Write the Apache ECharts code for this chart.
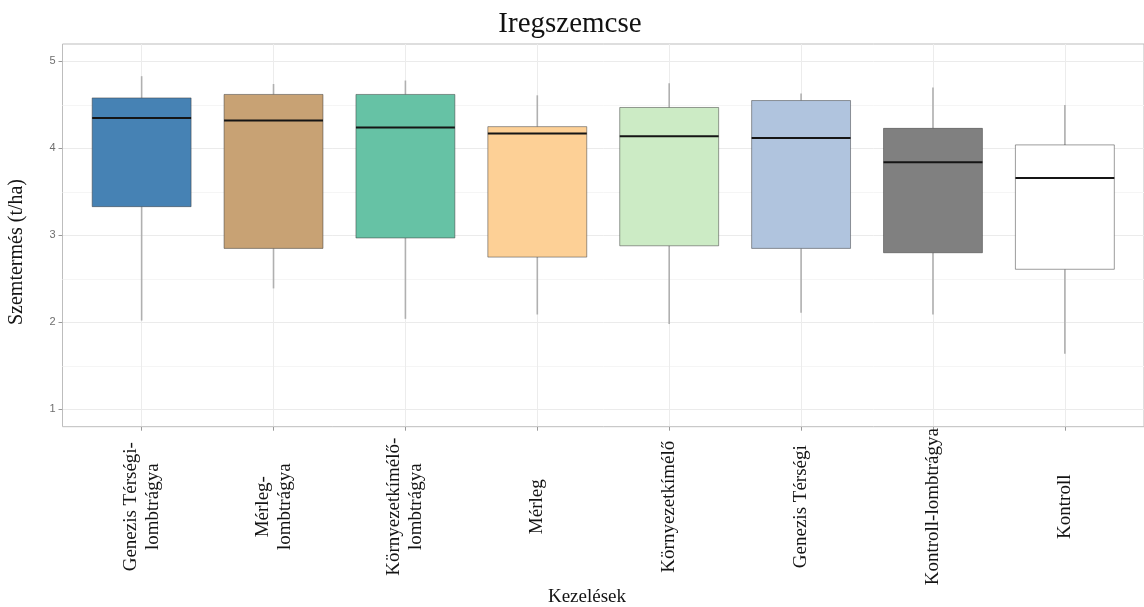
<!DOCTYPE html>
<html>
<head>
<meta charset="utf-8">
<style>
  html, body { margin: 0; padding: 0; background: #ffffff; }
  #chart { width: 1144px; height: 607px; }
</style>
<script src="https://cdn.jsdelivr.net/npm/echarts@6/dist/echarts.min.js"></script>
</head>
<body>
<div id="chart"></div>
<script>
// Treatments (x axis), in plotting order
const categories = [
  'Genezis Térségi-\nlombtrágya',
  'Mérleg-\nlombtrágya',
  'Környezetkímélő-\nlombtrágya',
  'Mérleg',
  'Környezetkímélő',
  'Genezis Térségi',
  'Kontroll-lombtrágya',
  'Kontroll'
];

// Five-number summaries of grain yield (t/ha) per treatment
const whiskerLow  = [2.02, 2.39, 2.04, 2.09, 1.98, 2.11, 2.09, 1.64];
const lowerQuart  = [3.33, 2.85, 2.97, 2.75, 2.88, 2.85, 2.80, 2.61];
const medians     = [4.35, 4.32, 4.24, 4.17, 4.14, 4.12, 3.84, 3.66];
const upperQuart  = [4.58, 4.62, 4.62, 4.25, 4.47, 4.55, 4.23, 4.04];
const whiskerHigh = [4.83, 4.74, 4.78, 4.61, 4.75, 4.63, 4.70, 4.50];

// Box fills per treatment
const fillColors = ['#4682B4', '#C8A274', '#66C2A5', '#FDD096', '#CCEBC5', '#B0C4DE', '#808080', '#FFFFFF'];

// Axis ticks
const yTicks = [1, 2, 3, 4, 5];
const yMinorTicks = [1.5, 2.5, 3.5, 4.5];
const xTicks = categories.map((c, i) => i);

const boxData = categories.map((c, i) => [
  i, whiskerLow[i], lowerQuart[i], medians[i], upperQuart[i], whiskerHigh[i]
]);

const serif = '"Liberation Serif", "Times New Roman", serif';

const chart = echarts.init(document.getElementById('chart'), null, { renderer: 'canvas' });

chart.setOption({
  animation: false,
  backgroundColor: '#ffffff',
  title: {
    text: 'Iregszemcse',
    left: 565,
    top: 5,
    textAlign: 'center',
    textStyle: { fontFamily: serif, fontSize: 29, fontWeight: 'normal', color: '#111111' }
  },
  grid: {
    left: 62.5,
    top: 44,
    right: -4.7,
    bottom: 180.3,
    show: true,
    borderColor: '#bdbdbd',
    borderWidth: 1,
    backgroundColor: 'transparent'
  },
  xAxis: {
    type: 'value',
    min: -0.6,
    max: 7.6,
    position: 'bottom',
    axisLine: { show: false, onZero: false },
    axisTick: {
      show: true, customValues: xTicks, length: 4,
      lineStyle: { color: '#9a9a9a', width: 1 }
    },
    axisLabel: {
      customValues: xTicks,
      formatter: v => categories[Math.round(v)],
      rotate: 90,
      align: 'center',
      verticalAlign: 'middle',
      margin: 80,
      fontFamily: serif,
      fontSize: 19,
      lineHeight: 22,
      color: '#141414'
    },
    splitLine: { show: true, lineStyle: { color: '#ececec', width: 1 } }
  },
  yAxis: [
    {
      type: 'value',
      min: 0.8,
      max: 5.2,
      position: 'left',
      axisLine: { show: false, onZero: false },
      axisTick: {
        show: true, customValues: yTicks, length: 4,
        lineStyle: { color: '#9a9a9a', width: 1 }
      },
      axisLabel: {
        customValues: yTicks,
        margin: 7,
        fontFamily: '"Liberation Sans", Arial, sans-serif',
        fontSize: 11,
        color: '#6e6e6e'
      },
      splitLine: { show: true, lineStyle: { color: '#ebebeb', width: 1 } }
    },
    {
      type: 'value',
      min: 0.8,
      max: 5.2,
      position: 'left',
      axisLine: { show: false, onZero: false },
      axisTick: { show: false, customValues: yMinorTicks },
      axisLabel: { show: false, customValues: yMinorTicks },
      splitLine: { show: true, lineStyle: { color: '#f5f5f5', width: 1 } }
    }
  ],
  graphic: [
    {
      type: 'text',
      x: 17,
      y: 252,
      rotation: Math.PI / 2,
      style: {
        text: 'Szemtermés (t/ha)',
        align: 'center',
        verticalAlign: 'middle',
        font: '20px ' + serif,
        fill: '#141414'
      }
    },
    {
      type: 'text',
      x: 587,
      y: 597,
      style: {
        text: 'Kezelések',
        align: 'center',
        verticalAlign: 'middle',
        font: '19px ' + serif,
        fill: '#141414'
      }
    }
  ],
  series: [
    {
      type: 'custom',
      xAxisIndex: 0,
      yAxisIndex: 0,
      encode: { x: 0, y: [1, 2, 3, 4, 5] },
      data: boxData,
      renderItem: function (params, api) {
        const i = api.value(0);
        const half = api.size([0.75, 0])[0] / 2;
        const pLow = api.coord([i, api.value(1)]);
        const pQ1 = api.coord([i, api.value(2)]);
        const pMed = api.coord([i, api.value(3)]);
        const pQ3 = api.coord([i, api.value(4)]);
        const pHigh = api.coord([i, api.value(5)]);
        const x = pMed[0];
        const whiskerStyle = { stroke: '#b0b0b0', lineWidth: 1.6 };
        return {
          type: 'group',
          children: [
            { type: 'line', shape: { x1: x, y1: pHigh[1], x2: x, y2: pQ3[1] }, style: whiskerStyle },
            { type: 'line', shape: { x1: x, y1: pQ1[1], x2: x, y2: pLow[1] }, style: whiskerStyle },
            {
              type: 'rect',
              shape: { x: x - half, y: pQ3[1], width: half * 2, height: pQ1[1] - pQ3[1] },
              style: { fill: fillColors[params.dataIndex], stroke: 'rgba(60,60,60,0.5)', lineWidth: 1 }
            },
            {
              type: 'line',
              shape: { x1: x - half, y1: pMed[1], x2: x + half, y2: pMed[1] },
              style: { stroke: '#151515', lineWidth: 2 }
            }
          ]
        };
      }
    }
  ]
});
</script>
</body>
</html>
